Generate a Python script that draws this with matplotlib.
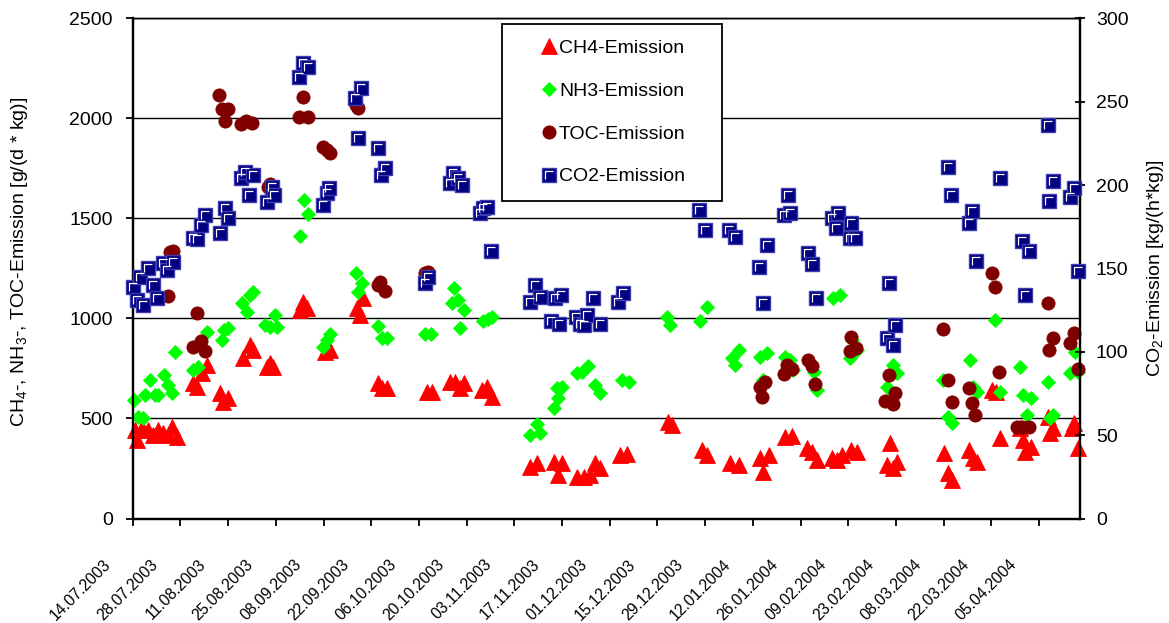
import datetime as dt

import numpy as np
import matplotlib
matplotlib.use("Agg")
import matplotlib.pyplot as plt
import matplotlib.dates as mdates
from matplotlib.lines import Line2D
from matplotlib.path import Path
from matplotlib.ticker import FixedLocator, MultipleLocator
from matplotlib.transforms import ScaledTranslation
from matplotlib.legend_handler import HandlerLine2D, HandlerTuple

plt.rcParams["font.family"] = ["Liberation Sans", "DejaVu Sans"]
plt.rcParams["mathtext.fontset"] = "custom"
plt.rcParams["mathtext.rm"] = "Liberation Sans"
plt.rcParams["mathtext.default"] = "regular"

# ---------------------------------------------------------------------------
# Measurement period
START = dt.date(2003, 7, 14)
END = dt.date(2004, 4, 17)
TICK_STEP_DAYS = 14
LAST_TICK = dt.date(2004, 4, 5)

# CH4 emission, g/(d*kg); day = days after 14.07.2003
ch4_day = [0.7, 1.2, 2.6, 4.6, 6.0, 7.5, 9.0, 10.4, 11.4, 12.9,
           17.8, 18.8, 20.3, 21.7, 25.6, 26.6, 28.1, 32.5, 34.4, 35.4,
           39.3, 40.3, 41.3, 49.1, 50.1, 51.1, 56.4, 57.9, 65.7, 66.7,
           67.7, 72.1, 73.1, 74.6, 86.3, 87.8, 93.1, 94.6, 96.1, 97.3,
           102.4, 103.9, 105.4, 116.6, 118.6, 123.5, 124.9, 125.9, 130.3, 132.3,
           134.2, 135.7, 137.2, 143.0, 145.0, 157.2, 158.2, 167.0, 168.5, 175.3,
           177.8, 184.1, 185.1, 186.6, 191.5, 193.4, 197.8, 199.3, 200.8, 205.2,
           206.6, 208.1, 210.8, 212.5, 221.3, 222.3, 223.2, 224.2, 238.2, 239.2,
           240.4, 245.3, 246.7, 247.7, 252.1, 253.3, 254.6, 260.4, 261.4, 261.9,
           263.7, 268.7, 269.2, 270.2, 275.6, 276.1, 277.5]
ch4 = [442, 392, 451, 442, 417, 442, 426, 417, 459, 409,
       676, 659, 726, 767, 626, 584, 601, 801, 867, 842,
       759, 776, 759, 1042, 1084, 1051, 834, 842, 1051, 1017,
       1101, 676, 651, 651, 634, 634, 684, 684, 651, 676,
       642, 659, 609, 259, 276, 284, 217, 276, 209, 209,
       217, 276, 251, 317, 321, 484, 467, 342, 317, 276,
       267, 301, 234, 317, 409, 414, 351, 334, 292, 301,
       292, 317, 342, 334, 267, 376, 251, 284, 326, 226,
       192, 342, 301, 284, 642, 634, 401, 451, 392, 334,
       359, 509, 426, 451, 451, 476, 351]

# NH3 emission, g/(d*kg)
nh3_day = [0.5, 1.6, 3.1, 3.6, 5.1, 6.5, 7.5, 9.3, 10.3, 11.4,
           12.4, 17.8, 19.1, 21.7, 26.1, 26.9, 28.1, 32.0, 33.5, 34.4,
           35.4, 38.8, 40.3, 41.8, 42.3, 49.1, 50.3, 51.5, 55.9, 56.9,
           57.9, 65.5, 66.2, 67.2, 71.9, 73.1, 74.6, 85.8, 87.6, 93.6,
           94.4, 95.6, 96.1, 97.3, 102.9, 104.4, 105.5, 116.6, 118.6, 119.5,
           123.5, 124.5, 124.9, 125.9, 130.3, 131.8, 133.5, 135.7, 137.2, 143.5,
           145.5, 156.7, 157.7, 166.5, 168.5, 175.8, 176.8, 177.8, 184.1, 185.1,
           186.1, 191.5, 193.0, 193.9, 198.8, 199.8, 200.8, 205.6, 207.6, 210.5,
           211.0, 212.5, 221.3, 223.2, 224.2, 237.9, 239.4, 240.4, 245.8, 246.7,
           247.7, 252.9, 254.6, 260.4, 261.4, 262.4, 263.7, 268.7, 269.2, 270.2,
           275.1, 276.4, 277.5]
nh3 = [592, 509, 501, 617, 692, 617, 617, 717, 667, 626,
       834, 742, 759, 934, 892, 942, 954, 1076, 1034, 1117,
       1134, 967, 959, 1017, 959, 1412, 1592, 1521, 859, 892,
       921, 1226, 1134, 1176, 962, 901, 904, 921, 921, 1076,
       1154, 1092, 951, 1042, 987, 997, 1009, 417, 471, 426,
       551, 651, 601, 659, 726, 734, 764, 667, 626, 692,
       684, 1009, 967, 987, 1059, 801, 767, 842, 809, 692,
       826, 809, 792, 742, 784, 734, 642, 1101, 1117, 801,
       892, 842, 659, 767, 726, 692, 509, 476, 792, 659,
       634, 992, 634, 759, 617, 517, 601, 684, 501, 517,
       726, 834, 734]

# TOC emission, g/(d*kg)
toc_day = [10.3, 11.0, 11.9, 17.8, 18.8, 20.0, 21.2, 25.3, 26.1, 27.1,
           28.1, 31.8, 33.2, 34.9, 39.8, 40.3, 48.8, 50.1, 51.4, 55.9,
           56.9, 57.9, 65.4, 66.0, 71.9, 72.6, 74.1, 85.8, 86.8, 184.1,
           184.8, 185.6, 191.0, 192.0, 193.4, 198.1, 199.3, 200.3, 210.5, 210.8,
           212.2, 220.8, 222.0, 223.2, 223.7, 237.9, 239.2, 240.4, 245.3, 246.3,
           247.2, 252.1, 253.1, 254.3, 259.5, 260.9, 262.9, 268.6, 268.9, 270.2,
           275.1, 276.1, 277.4]
toc = [1114, 1330, 1337, 859, 1026, 887, 837, 2117, 2047, 1987,
       2047, 1971, 1987, 1976, 1659, 1670, 2009, 2109, 2009, 1859,
       1842, 1826, 2067, 2051, 1167, 1184, 1137, 1226, 1234, 659,
       609, 684, 721, 767, 747, 792, 764, 671, 837, 909,
       851, 587, 717, 571, 626, 947, 692, 584, 651, 576,
       517, 1226, 1156, 731, 459, 459, 459, 1076, 842, 904,
       876, 926, 747]

# CO2 emission, kg/(h*kg) (secondary axis)
co2_day = [0.2, 1.2, 2.1, 3.1, 4.6, 6.0, 7.0, 9.0, 10.0, 11.9,
           17.8, 18.8, 20.0, 21.2, 25.6, 27.1, 28.1, 31.8, 33.0, 34.1,
           35.4, 39.3, 40.8, 41.6, 48.8, 50.1, 51.5, 55.9, 56.9, 57.6,
           65.2, 66.2, 67.0, 71.9, 72.9, 74.1, 85.8, 86.8, 93.1, 94.1,
           95.6, 96.6, 102.0, 102.9, 103.9, 105.2, 116.6, 118.1, 119.5, 122.8,
           124.0, 125.1, 125.7, 130.0, 131.3, 132.3, 133.3, 135.2, 137.2, 142.5,
           144.0, 166.3, 168.0, 175.0, 176.8, 183.8, 185.1, 186.1, 191.0, 192.3,
           192.9, 198.1, 199.3, 200.5, 205.2, 206.3, 207.1, 210.5, 210.8, 212.0,
           221.3, 222.0, 223.2, 223.7, 239.2, 240.2, 245.3, 246.3, 247.4, 254.6,
           260.9, 261.9, 263.1, 268.6, 268.9, 270.2, 275.1, 276.1, 277.4]
co2 = [139, 131, 145, 128, 150, 140, 132, 153, 149, 154,
       168.5, 167.7, 176, 182, 171.5, 186, 180, 204, 208, 194,
       206, 190, 199, 194, 265, 273, 271, 188, 195, 198.5,
       252, 228.5, 258, 222, 206, 210, 141, 145, 201, 207,
       204, 200, 183, 186, 187, 160.5, 130, 140, 133, 118.5,
       132, 116.5, 134, 121, 116.5, 116, 122, 132, 116.5, 130,
       135, 185, 173, 173, 169, 151, 129, 164, 182, 194,
       183, 159, 152.5, 132, 180, 174.5, 183, 168, 177, 168.5,
       108.5, 141, 104, 116, 211, 194, 177, 184.5, 154.5, 204,
       166.5, 134, 160.5, 236, 190.5, 202.5, 193, 198.5, 148.5]

LEFT_MAX = 2500
RIGHT_MAX = 300

# ---------------------------------------------------------------------------
t0 = mdates.date2num(START)


def as_dates(days):
    return t0 + np.asarray(days, dtype=float)


fig = plt.figure(figsize=(11.69, 6.23), dpi=100)
ax = fig.add_axes([0.1135, 0.1677, 0.8104, 0.8029])
ax2 = ax.twinx()

ax.set_xlim(t0, mdates.date2num(END))
ax.set_ylim(0, LEFT_MAX)
ax2.set_ylim(0, RIGHT_MAX)

common = dict(ls="none", clip_on=False)
h_ch4, = ax.plot(as_dates(ch4_day), ch4, marker="^", ms=12, mfc="#FF0000",
                 mec="#FF0000", mew=0.6, label="CH4-Emission", zorder=3, **common)
h_nh3, = ax.plot(as_dates(nh3_day), nh3, marker="D", ms=6.8, mfc="#00FF00",
                 mec="#00FF00", mew=0.6, label="NH3-Emission", zorder=4, **common)
h_toc, = ax.plot(as_dates(toc_day), toc, marker="o", ms=9.5, mfc="#800000",
                 mec="#800000", mew=0.6, label="TOC-Emission", zorder=5, **common)

# square marker with a light inner corner line
corner = Path([(-1, -1), (1, 1), (-0.6, -0.55), (-0.6, 0.6), (0.55, 0.6)],
              [Path.MOVETO, Path.MOVETO, Path.MOVETO, Path.LINETO, Path.LINETO])
h_co2, = ax2.plot(as_dates(co2_day), co2, marker="s", ms=9.6, mfc="#000080",
                  mec="#3C3CB0", mew=1.0, label="CO2-Emission", zorder=3, **common)
h_co2c, = ax2.plot(as_dates(co2_day), co2, marker=corner, ms=9.6, mfc="none",
                   mec="white", mew=0.9, zorder=4, **common)

# ---------------------------------------------------------------------------
# axes styling
ax.set_axisbelow(True)
ax.yaxis.set_major_locator(MultipleLocator(500))
ax.grid(axis="y", color="black", lw=1.0)
ax.grid(axis="x", visible=False)
ax2.yaxis.set_major_locator(MultipleLocator(50))

for a in (ax, ax2):
    for side in ("left", "right", "bottom"):
        a.spines[side].set_linewidth(1.6)
    a.spines["top"].set_linewidth(1.0)

ticks = [mdates.date2num(START + dt.timedelta(days=d))
         for d in range(0, (LAST_TICK - START).days + 1, TICK_STEP_DAYS)]
ax.xaxis.set_major_locator(FixedLocator(ticks))
ax.xaxis.set_major_formatter(mdates.DateFormatter("%d.%m.%Y"))

ax.tick_params(axis="x", direction="out", length=5, width=1.3, pad=22.5)
ax.tick_params(axis="y", direction="out", length=4.7, width=1.3, pad=9.5,
               labelsize=14)
ax2.tick_params(axis="y", direction="inout", length=6.5, width=1.3, pad=8.2,
                labelsize=14)

shift = ScaledTranslation(-0.30, 0, fig.dpi_scale_trans)
for lbl in ax.get_xticklabels():
    lbl.set_rotation(45)
    lbl.set_rotation_mode("anchor")
    lbl.set_ha("right")
    lbl.set_va("top")
    lbl.set_family(["Liberation Sans Narrow", "Liberation Sans"])
    lbl.set_fontsize(11.3)
    lbl.set_transform(lbl.get_transform() + shift)

fig.text(20 / 1169, 1 - 262 / 623, r"CH$_4$-, NH$_3$-, TOC-Emission [g/(d * kg)]",
         rotation=90, ha="center", va="center", fontsize=14)
fig.text(1155 / 1169, 1 - 268 / 623, r"CO$_2$-Emission [kg/(h*kg)]",
         rotation=90, ha="center", va="center", fontsize=14)


# ---------------------------------------------------------------------------
# legend: marker sits close to the label text
class NearTextHandler(HandlerLine2D):
    def get_xdata(self, legend, xdescent, ydescent, width, height, fontsize):
        m = -xdescent + width - 0.32 * fontsize
        return [m - 1.0, m + 1.0], [m]


handler = NearTextHandler()
leg = ax2.legend([h_ch4, h_nh3, h_toc, (h_co2, h_co2c)],
                 ["CH4-Emission", "NH3-Emission", "TOC-Emission", "CO2-Emission"],
                 loc="upper left", mode="expand",
                 bbox_to_anchor=(502 / 1169, 1 - 196 / 623, 220 / 1169, 172 / 623),
                 bbox_transform=fig.transFigure, borderaxespad=0,
                 fontsize=14, borderpad=0.78, labelspacing=1.3,
                 handlelength=1.95, handletextpad=0.2, numpoints=1,
                 fancybox=False, framealpha=1, edgecolor="black",
                 handler_map={Line2D: handler, tuple: HandlerTuple(ndivide=1)})
leg.get_frame().set_linewidth(1.3)

fig.savefig("out.png", dpi=100)
